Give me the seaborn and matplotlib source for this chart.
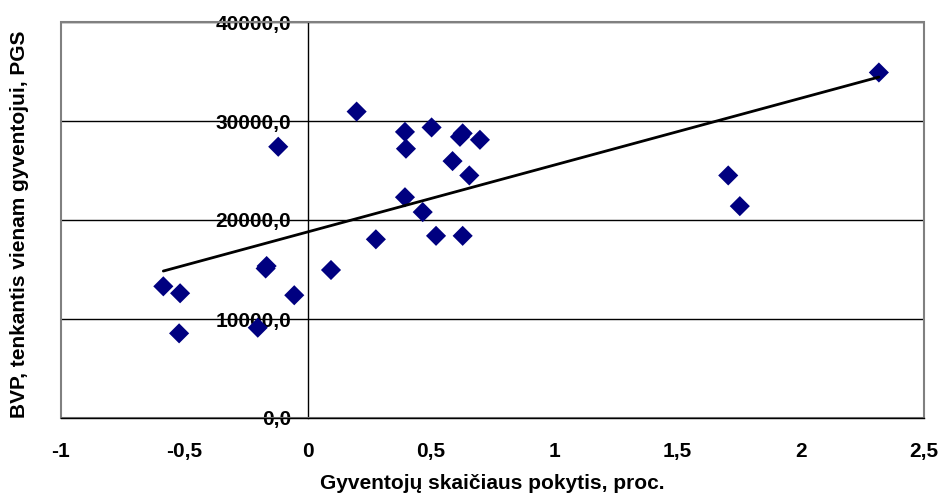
import numpy as np
import pandas as pd
import matplotlib
matplotlib.use("Agg")
import matplotlib.pyplot as plt
from matplotlib.patches import Rectangle
import seaborn as sns

# Population change (%) vs GDP per capita (PPS)
pop_change = [-0.585, -0.517, -0.521, -0.202, -0.170, -0.166, -0.119, -0.054,
              0.095, 0.199, 0.277, 0.395, 0.399, 0.395, 0.503, 0.467, 0.521,
              0.588, 0.618, 0.629, 0.629, 0.656, 0.699, 1.706, 1.753, 2.317]
gdp_pps = [13300, 12600, 8550, 9120, 15100, 15350, 27400, 12400,
           14950, 30950, 18050, 28900, 27200, 22300, 29350, 20800, 18400,
           25950, 28400, 28750, 18400, 24500, 28100, 24500, 21400, 34900]

x_ticks = [-1, -0.5, 0, 0.5, 1, 1.5, 2, 2.5]
x_tick_labels = ["-1", "-0,5", "0", "0,5", "1", "1,5", "2", "2,5"]
y_ticks = [0, 10000, 20000, 30000, 40000]
y_tick_labels = ["0,0", "10000,0", "20000,0", "30000,0", "40000,0"]

df = pd.DataFrame({"x": pop_change, "y": gdp_pps})

sns.set_theme(style="white")
plt.rcParams["font.family"] = ["Liberation Sans", "DejaVu Sans"]
plt.rcParams["font.weight"] = "bold"
plt.rcParams["text.color"] = "black"
plt.rcParams["axes.labelcolor"] = "black"
plt.rcParams["xtick.color"] = "black"
plt.rcParams["ytick.color"] = "black"

fig = plt.figure(figsize=(9.42, 4.97), dpi=100)
ax = fig.add_axes([61 / 942, 79 / 497, 863 / 942, 396 / 497])

sns.scatterplot(data=df, x="x", y="y", marker="D", s=105, color="#000080",
                edgecolor="none", ax=ax, zorder=3)
sns.regplot(data=df, x="x", y="y", scatter=False, ci=None, truncate=True,
            line_kws={"color": "black", "lw": 2.0, "zorder": 4}, ax=ax)

ax.set_xlim(-1, 2.5)
ax.set_ylim(0, 40000)
ax.set_xticks(x_ticks)
ax.set_xticklabels(x_tick_labels)
ax.set_yticks(y_ticks)
ax.set_yticklabels(y_tick_labels)

# horizontal grid lines
ax.yaxis.grid(True, color="black", lw=1.0)
ax.xaxis.grid(False)
ax.set_axisbelow(True)

# axes cross at the origin
for side in ("top", "right"):
    ax.spines[side].set_visible(False)
ax.spines["left"].set_position(("data", 0))
ax.spines["left"].set_color("black")
ax.spines["left"].set_linewidth(1.0)
ax.spines["bottom"].set_color("black")
ax.spines["bottom"].set_linewidth(1.0)
ax.spines["left"].set_zorder(2)
ax.spines["bottom"].set_zorder(5)

# plot-area frame
ax.add_patch(Rectangle((0, 0), 1, 1, transform=ax.transAxes, fill=False,
                       edgecolor="#808080", lw=1.5, zorder=2.5, clip_on=False))

ax.tick_params(axis="both", which="major", direction="out", length=4.2,
               width=1.0, color="black", labelcolor="black", labelsize=15)
ax.tick_params(axis="y", pad=7.5)
ax.tick_params(axis="x", pad=13)
for lbl in ax.get_xticklabels() + ax.get_yticklabels():
    lbl.set_fontweight("bold")

ax.set_xlabel("Gyventojų skaičiaus pokytis, proc.", fontsize=15,
              fontweight="bold", color="black", labelpad=9.5)
ax.set_ylabel("")
fig.text(20 / 942, 1 - 224 / 497, "BVP, tenkantis vienam gyventojui, PGS",
         rotation=90, ha="center", va="center", fontsize=15,
         fontweight="bold", color="black")

fig.savefig("out.png", dpi=100)
